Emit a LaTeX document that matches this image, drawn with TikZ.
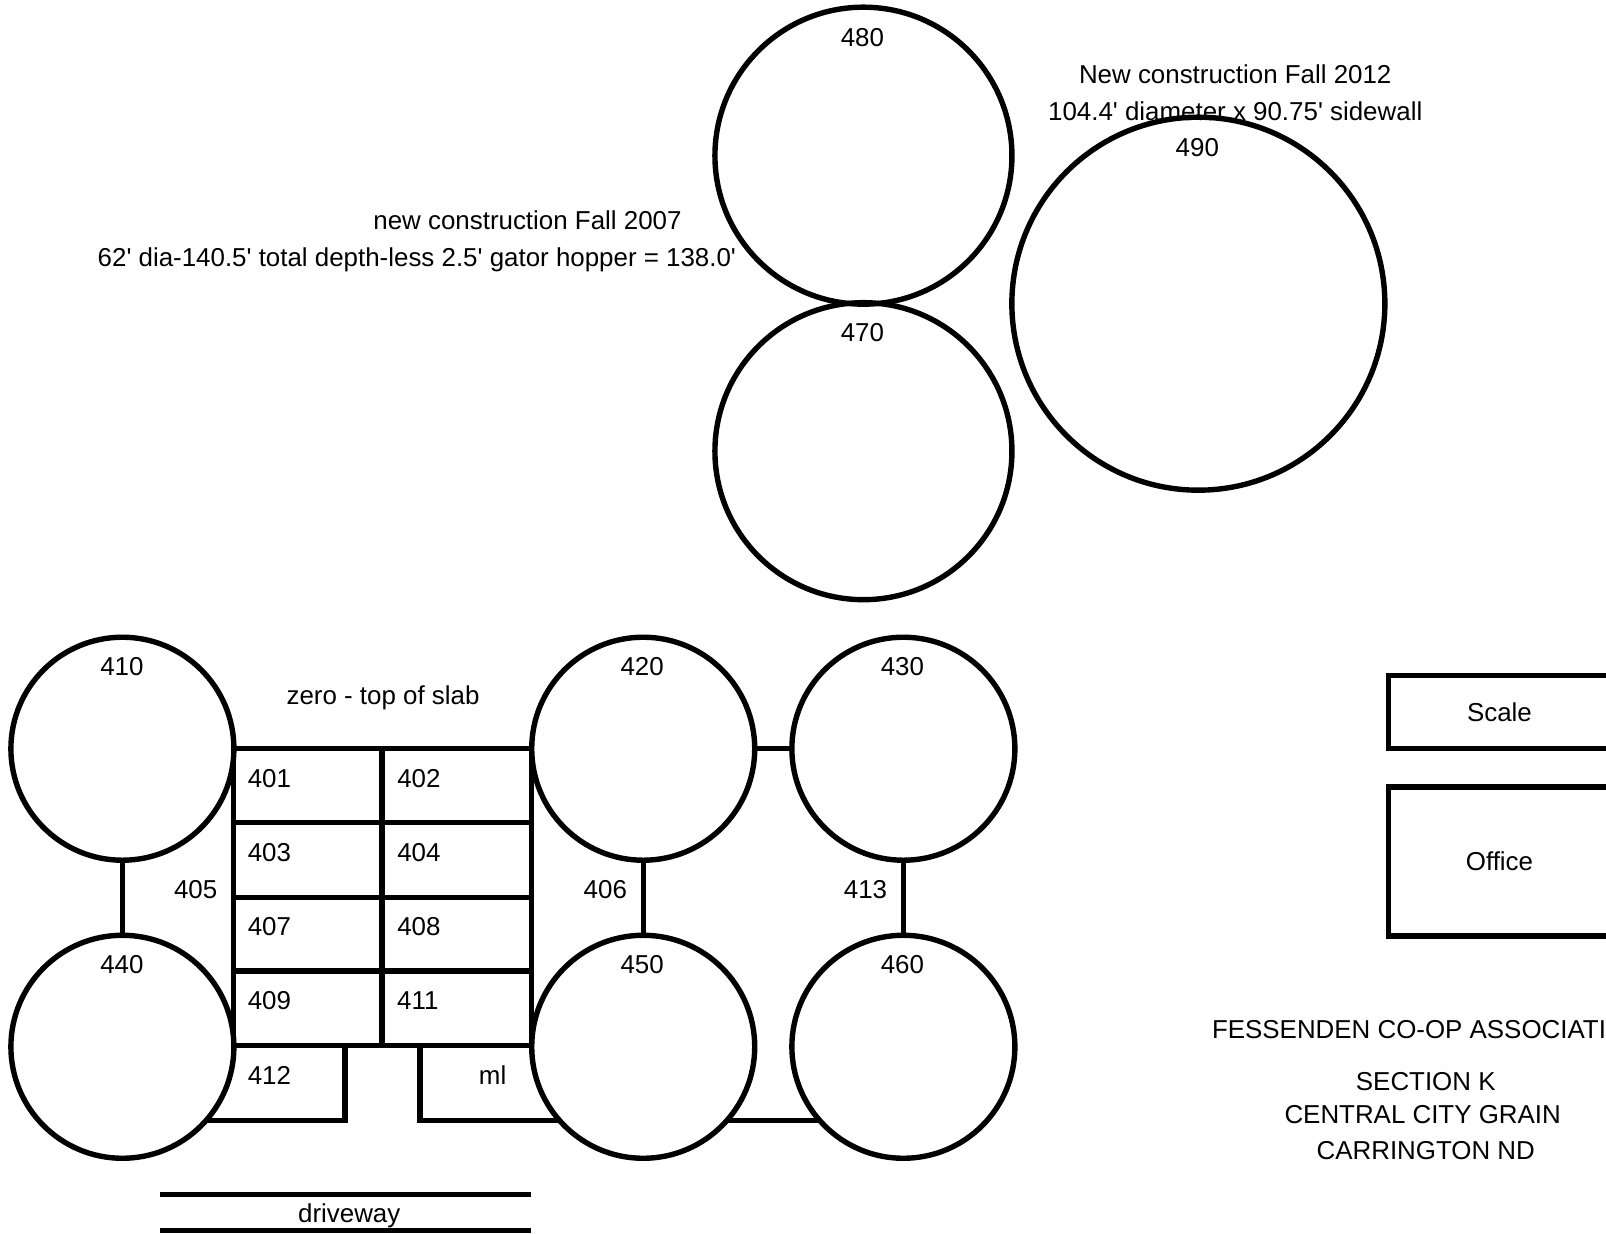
\documentclass[tikz,border=0pt]{standalone}
\usepackage{fontspec}
\setmainfont{Liberation Sans}
\newcommand{\qq}{\textquotesingle}
\tikzset{
  wall/.style={line width=2.7pt,black,line cap=butt},
  bin/.style={circle,draw=black,line width=2.7pt,inner sep=0pt,outer sep=0pt},
  small/.style={bin,minimum size=111.5pt},
  mid/.style={bin,minimum size=148.5pt},
  large/.style={bin,minimum size=186.5pt},
  lbl/.style={font=\fontsize{12.95pt}{15pt}\selectfont,inner sep=0pt,anchor=center},
  house/.style={draw=black,line width=2.7pt,outer sep=0pt,inner sep=0pt,anchor=north west}
}
\begin{document}
\begin{tikzpicture}[x=0.5121pt,y=-0.5121pt]
\useasboundingbox (0,-1) rectangle (1568,1203.8);
\clip (0,-1) rectangle (1568,1203.8);
% bins
\node[mid] (c480) at (843,151) {};
\node[mid] (c470) at (843,439.5) {};
\node[large] (c490) at (1170,295.5) {};
\node[small] (c410) at (119.5,730) {};
\node[small] (c420) at (628,730) {};
\node[small] (c430) at (882,730) {};
\node[small] (c440) at (119.5,1021) {};
\node[small] (c450) at (628,1021) {};
\node[small] (c460) at (882,1021) {};
% connectors between bins
\draw[wall] (c410) -- (c440);
\draw[wall] (c420) -- (c450);
\draw[wall] (c430) -- (c460);
\draw[wall] (c420) -- (c430);
% grid
\coordinate (tl) at (228,730);
\coordinate (tm) at (373,730);
\coordinate (tr) at (519,730);
\coordinate (bl) at (228,1020);
\coordinate (bm) at (373,1020);
\coordinate (br) at (519,1020);
\coordinate (r1l) at (228,802);  \coordinate (r1r) at (519,802);
\coordinate (r2l) at (228,875);  \coordinate (r2r) at (519,875);
\coordinate (r3l) at (228,947);  \coordinate (r3r) at (519,947);
\draw[wall,line cap=rect] (tl) -- (tr);
\draw[wall] (tl) -- (bl);
\draw[wall] (tm) -- (bm);
\draw[wall] (tr) -- (br);
\draw[wall] (r1l) -- (r1r);
\draw[wall] (r2l) -- (r2r);
\draw[wall] (r3l) -- (r3r);
\draw[wall] (bl) -- (br);
% lower rooms
\coordinate (a1) at (337,1020);
\coordinate (a2) at (337,1093);
\coordinate (a3) at (201,1093);
\draw[wall,line join=miter] (a1) -- (a2) -- (a3);
\coordinate (m1) at (410,1020);
\coordinate (m2) at (410,1093);
\coordinate (m3) at (546,1093);
\draw[wall,line join=miter] (m1) -- (m2) -- (m3);
\coordinate (n1) at (710,1093);
\coordinate (n2) at (800,1093);
\draw[wall] (n1) -- (n2);
% driveway
\coordinate (d1) at (156,1165); \coordinate (d2) at (518,1165);
\coordinate (d3) at (156,1200.5); \coordinate (d4) at (518,1200.5);
\draw[wall] (d1) -- (d2);
\draw[wall] (d3) -- (d4);
% scale and office
\node[house,minimum width=260pt,minimum height=36.5pt] (scalebox) at (1355.5,658.5) {};
\node[house,minimum width=260pt,minimum height=74.5pt] (officebox) at (1355.5,767.5) {};
% labels
\node[lbl] (t480) at (842,36) {480};
\node[lbl] (t470) at (842,323.5) {470};
\node[lbl] (t490) at (1169,143.5) {490};
\node[lbl] (t410) at (119,650) {410};
\node[lbl] (t420) at (627,650) {420};
\node[lbl] (t430) at (881,650) {430};
\node[lbl] (t440) at (119,940.5) {440};
\node[lbl] (t450) at (627,940.5) {450};
\node[lbl] (t460) at (881,940.5) {460};
\node[lbl] (t401) at (263,759) {401};
\node[lbl] (t402) at (409,759) {402};
\node[lbl] (t403) at (263,831) {403};
\node[lbl] (t404) at (409,831) {404};
\node[lbl] (t407) at (263,904) {407};
\node[lbl] (t408) at (409,904) {408};
\node[lbl] (t409) at (263,976) {409};
\node[lbl] (t411) at (408,976) {411};
\node[lbl] (t412) at (263,1049) {412};
\node[lbl] (tml) at (481,1048.5) {ml};
\node[lbl] (t405) at (191,868) {405};
\node[lbl] (t406) at (591,868) {406};
\node[lbl] (t413) at (845,868) {413};
\node[lbl] (tzero) at (374,680) {zero - top of slab};
\node[lbl] (tdrive) at (341,1186) {driveway};
\node[lbl] (tnew1) at (1206,71.5) {New construction Fall 2012};
\node[lbl] (tnew2) at (1206,107.5) {104.4\qq{} diameter x 90.75\qq{} sidewall};
\node[lbl] (told1) at (515,214) {new construction Fall 2007};
\node[lbl] (told2) at (407,253) {62\qq{} dia-140.5\qq{} total depth-less 2.5\qq{} gator hopper = 138.0\qq};
\node[lbl] (tscale) at (1464,694) {Scale};
\node[lbl] (toffice) at (1464,840) {Office};
\node[lbl,anchor=west] (tfess) at (1183,1004) {FESSENDEN CO-OP ASSOCIATION};
\node[lbl] (tsec) at (1392,1055) {SECTION K};
\node[lbl] (tcen) at (1389,1087) {CENTRAL CITY GRAIN};
\node[lbl] (tcar) at (1392,1122) {CARRINGTON ND};
\end{tikzpicture}
\end{document}
